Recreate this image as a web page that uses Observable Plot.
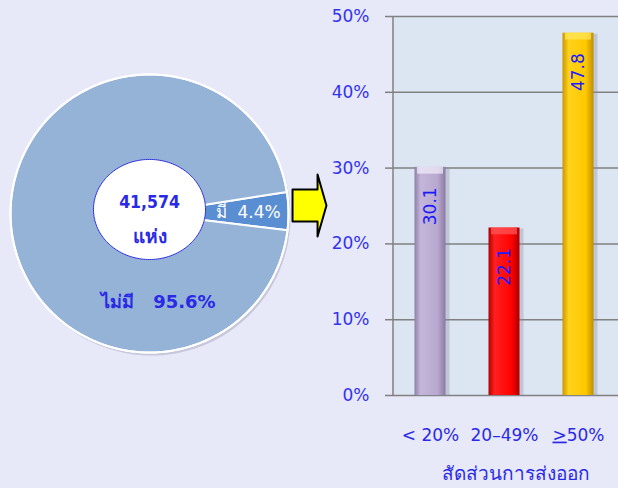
<!DOCTYPE html>
<html><head><meta charset="utf-8">
<script src="https://cdn.jsdelivr.net/npm/d3@7"></script>
<script src="https://cdn.jsdelivr.net/npm/@observablehq/plot@0.6"></script>
<style>
html,body{margin:0;padding:0;background:#E7E8F8;}
#wrap{position:relative;width:618px;height:488px;overflow:hidden;font-family:"DejaVu Sans",sans-serif;}
#pie,#bar{position:absolute;top:0;}
#pie{left:0;}
#bar{left:330px;}
</style></head>
<body><div id="wrap"><div id="pie"></div><div id="bar"></div></div>
<script>
// ---- data ----
const pieLabels = ["มี", "ไม่มี"];
const pieValues = [4.4, 95.6];
const pieColors = ["#5A8ED2", "#95B3D7"];
const totalCount = "41,574";
const totalUnit = "แห่ง";
const barCategories = ["< 20%", "20–49%", "≥50%"];
const barValues = [30.1, 22.1, 47.8];
const barColors = [
  ["#8f7fa8", "#c4b6da", "#b8a8d0", "#8a7aa2"],
  ["#b00000", "#ff2020", "#ff0000", "#a80000"],
  ["#c99700", "#ffd21a", "#ffc800", "#c08f00"]
];
const barCapColors = ["#f4eefa", "#ff5a5a", "#ffe860"];
const yTicks = [0, 10, 20, 30, 40, 50];
const axisTitle = "สัดส่วนการส่งออก";

const BLUE = "#2a2ae6";

// ---- pie geometry (unit circle) ----
const deg = Math.PI / 180;
const total = d3.sum(pieValues);
const firstSpan = pieValues[0] / total * 2 * Math.PI;
const startAngle = 1 * deg - firstSpan / 2;
const pieRows = [];
let a = startAngle;
pieValues.forEach((v, i) => {
  const span = v / total * 2 * Math.PI;
  const n = Math.max(4, Math.ceil(span / deg));
  pieRows.push({slice: pieLabels[i], x: 0, y: 0, c: pieColors[i]});
  for (let k = 0; k <= n; k++) {
    const t = a + span * k / n;
    pieRows.push({slice: pieLabels[i], x: Math.cos(t), y: Math.sin(t), c: pieColors[i]});
  }
  a += span;
});
const ring = (cx, cy, rx, ry) => d3.range(0, 361, 2).map(t => ({x: cx + rx * Math.cos(t * deg), y: cy + ry * Math.sin(t * deg)}));
const outer = ring(0, 0, 1, 1);
const inner = ring(0, 0.029, 0.403, 0.36);
const arrowShape = [[1.029,0.173],[1.209,0.173],[1.209,0.281],[1.273,0.058],[1.209,-0.165],[1.209,-0.058],[1.029,-0.058]].map(([x,y])=>({x,y}));
const midFirst = startAngle + firstSpan / 2;

const pie = Plot.plot({
  width: 330, height: 488,
  marginLeft: 10, marginRight: 42, marginTop: 74, marginBottom: 136,
  x: {domain: [-1, 1], axis: null},
  y: {domain: [-1, 1], axis: null},
  color: {type: "identity"},
  style: {background: "transparent", fontFamily: "DejaVu Sans, sans-serif", overflow: "visible"},
  marks: [
    Plot.line(outer, {x: "x", y: "y", fill: "#8c8ca8", fillOpacity: 0.35, stroke: "none", dx: 2, dy: 3, curve: "linear-closed"}),
    Plot.line(pieRows, {x: "x", y: "y", z: "slice", fill: "c", stroke: "white", strokeWidth: 2, curve: "linear-closed"}),
    Plot.line(outer, {x: "x", y: "y", stroke: "white", strokeWidth: 2, curve: "linear-closed"}),
    Plot.line(inner, {x: "x", y: "y", fill: "white", stroke: "#3030e0", strokeWidth: 1, curve: "linear-closed"}),
    Plot.line(arrowShape, {x: "x", y: "y", fill: "#FFFF00", stroke: "black", strokeWidth: 2, curve: "linear-closed"}),
    Plot.text([totalCount], {x: 0, y: 0.079, text: d => d, fill: BLUE, fontSize: 17.5, fontWeight: "bold", fontFamily: "DejaVu Sans Condensed, DejaVu Sans, sans-serif"}),
    Plot.text([totalUnit], {x: 0, y: -0.165, text: d => d, fill: BLUE, fontSize: 19, fontWeight: "bold"}),
    Plot.text([0], {x: 0.71 * Math.cos(midFirst), y: 0.71 * Math.sin(midFirst) - 0.005, text: () => `${pieLabels[0]}  ${pieValues[0].toFixed(1)}%`, fill: "white", fontSize: 17}),
    Plot.text([1], {x: 0.065, y: -0.64, text: () => `${pieLabels[1]}   ${pieValues[1].toFixed(1)}%`, fill: BLUE, fontSize: 18, fontWeight: "bold"})
  ]
});
document.getElementById("pie").appendChild(pie);

// ---- bar chart ----
const barData = barCategories.map((c, i) => ({cat: c, value: barValues[i], fill: `url(#barGrad${i})`, cap: barCapColors[i]}));
const bar = Plot.plot({
  width: 288, height: 488,
  marginLeft: 63, marginRight: 3, marginTop: 16, marginBottom: 93,
  x: {domain: barCategories, padding: 0, label: null},
  y: {domain: [0, 50], label: null},
  color: {type: "identity"},
  style: {background: "transparent", fontFamily: "DejaVu Sans, sans-serif", fontSize: "17px", overflow: "visible"},
  marks: [
    Plot.frame({fill: "#DCE6F2", stroke: "none", insetRight: -3}),
    Plot.gridY(yTicks, {stroke: "#808080", strokeOpacity: 1, strokeWidth: 1.5, insetRight: -3}),
    Plot.axisY(yTicks, {tickFormat: d => d + "%", tickSize: 8, tickPadding: 16, stroke: "#808080", strokeWidth: 1.5, fill: "#3333ee", fontSize: 17, label: null}),
    Plot.axisX({tickSize: 0, tickPadding: 33, fill: BLUE, fontSize: 17, label: null}),
    Plot.barY(barData, {x: "cat", y: "value", fill: "#8a8aa0", fillOpacity: 0.35, insetLeft: 21.5, insetRight: 19.5, dx: 2, dy: 1}),
    Plot.barY(barData, {x: "cat", y: "value", fill: "fill", insetLeft: 21.5, insetRight: 21.5}),
    Plot.barY(barData, {x: "cat", y1: d => d.value - 0.9, y2: "value", fill: "cap", fillOpacity: 0.7, insetLeft: 24, insetRight: 24}),
    Plot.text(barData, {x: "cat", y: "value", text: d => d.value.toFixed(1), rotate: -90, textAnchor: "end", dy: 20, fill: "#1a1aff", fontSize: 17}),
    Plot.text([axisTitle], {frameAnchor: "bottom", dy: 84, dx: 11, text: d => d, fill: BLUE, fontSize: 19})
  ]
});
const svg = d3.select(bar);
const defs = svg.insert("defs", ":first-child");
barColors.forEach((cols, i) => {
  const g = defs.append("linearGradient").attr("id", `barGrad${i}`).attr("x1", 0).attr("x2", 1).attr("y1", 0).attr("y2", 0);
  [[0, cols[0]], [0.2, cols[1]], [0.75, cols[2]], [1, cols[3]]].forEach(([o, c]) => g.append("stop").attr("offset", o).attr("stop-color", c));
});
svg.append("line").attr("x1", 63).attr("x2", 63).attr("y1", 16).attr("y2", 488 - 93).attr("stroke", "#808080").attr("stroke-width", 1.5);
svg.selectAll("text").each(function() {
  if (this.textContent === "≥50%") {
    const t = d3.select(this);
    t.text("");
    t.append("tspan").attr("text-decoration", "underline").text(">");
    t.append("tspan").text("50%");
  }
});
document.getElementById("bar").appendChild(bar);
</script>
</body></html>
